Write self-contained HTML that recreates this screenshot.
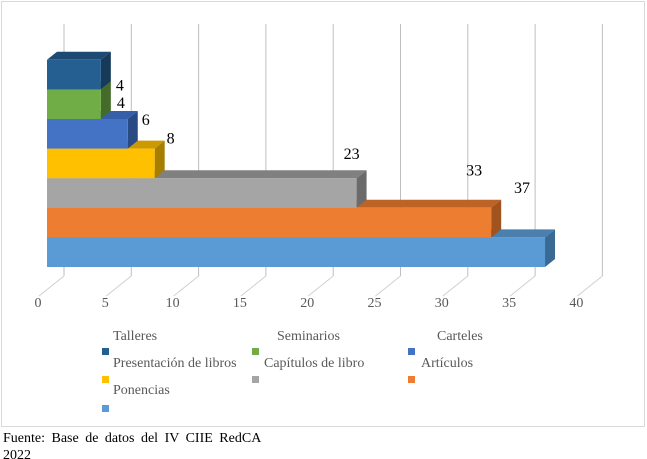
<!DOCTYPE html>
<html><head><meta charset="utf-8"><style>
body{margin:0;width:647px;height:459px;background:#fff;overflow:hidden;font-family:"Liberation Serif","Times New Roman","DejaVu Serif",serif}
svg{position:absolute;left:0;top:0}
svg text{font-family:"Liberation Serif","Times New Roman","DejaVu Serif",serif}
</style></head><body>
<svg width="647" height="459">
<rect x="1.5" y="1.5" width="643" height="425" fill="#fff" stroke="#d9d9d9"/>
<g id="grid"></g><g id="bars"></g><g id="labels"></g><g id="ticks"></g><g id="legend"></g>
<text x="3" y="442" font-size="14" fill="#000" word-spacing="3">Fuente: Base de datos del IV CIIE RedCA</text>
<text x="3" y="459" font-size="14" fill="#000">2022</text>
</svg>
<script>
const categories=["Talleres","Seminarios","Carteles","Presentación de libros","Capítulos de libro","Artículos","Ponencias"];
const values=[4,4,6,8,23,33,37];
const tickLabels=[0,5,10,15,20,25,30,35,40];
const colors=["#255e91","#70ad47","#4472c4","#ffc000","#a5a5a5","#ed7d31","#5b9bd5"];
const sideColors=["#173a5a","#456b2b","#2a4a86","#a67e00","#6b6b6b","#a0521f","#3a6a93"];
const topColors=["#1d4a73","#588a38","#355fa8","#cc9a00","#808080","#bc6325","#4a7fae"];
const labelDx=[19,20,18,16,-5,-17,-23];
const labelDy=[11,-1,-14,-25,-39,-52,-64];
const NS="http://www.w3.org/2000/svg";
const S=13.46, X0=47, DX=10, DY=8, BH=29.6, BOTTOM=267;
const xs=v=>X0+v*S;
const ys=i=>BOTTOM-(values.length-i)*BH;
function mk(t,a,p){const e=document.createElementNS(NS,t);for(const k in a)e.setAttribute(k,a[k]);p.appendChild(e);return e;}
const grid=document.getElementById('grid'),ticks=document.getElementById('ticks');
tickLabels.forEach((t,i)=>{const x=xs(t)+17;
 const l=mk('line',{x1:x,y1:24,x2:x,y2:276,stroke:'#bfbfbf','stroke-width':1},grid);
 
 const d=mk('line',{x1:x,y1:276,x2:x-25,y2:296,stroke:'#d0d0d0','stroke-width':1},grid);
 
 const tx=mk('text',{x:x-26,y:307,'font-size':14,fill:'#595959','text-anchor':'middle'},ticks);tx.textContent=t;
 });
const bars=document.getElementById('bars'),labels=document.getElementById('labels');
for(let i=values.length-1;i>=0;i--){const v=values[i];const y=ys(i),x1=xs(v);const g=mk('g',{},bars);
 
 mk('polygon',{points:`${X0},${y} ${X0+DX},${y-DY} ${x1+DX},${y-DY} ${x1},${y}`,fill:topColors[i]},g);
 mk('polygon',{points:`${x1},${y} ${x1+DX},${y-DY} ${x1+DX},${y+BH-DY} ${x1},${y+BH}`,fill:sideColors[i]},g);
 mk('rect',{x:X0,y:y,width:x1-X0,height:BH,fill:colors[i]},g);
 const t=mk('text',{x:x1+labelDx[i],y:y+BH/2+5+labelDy[i],'font-size':16,fill:'#000','text-anchor':'middle'},labels);t.textContent=v;
 }
const lg=document.getElementById('legend');
const colX=[[102,113],[252,264],[408,421]];
const rowText=[340,367,394],rowSq=[348,376,405];
categories.forEach((c,i)=>{const r=Math.floor(i/3),col=i%3;
 let tx=colX[col][1];if(r===0&&col===1)tx=277;if(r===0&&col===2)tx=437;
 const t=mk('text',{x:tx,y:rowText[r],'font-size':14,fill:'#595959'},lg);t.textContent=c;
 
 const s=mk('rect',{x:colX[col][0],y:rowSq[r],width:7,height:7,fill:colors[i]},lg);
 });
</script>
</body></html>
